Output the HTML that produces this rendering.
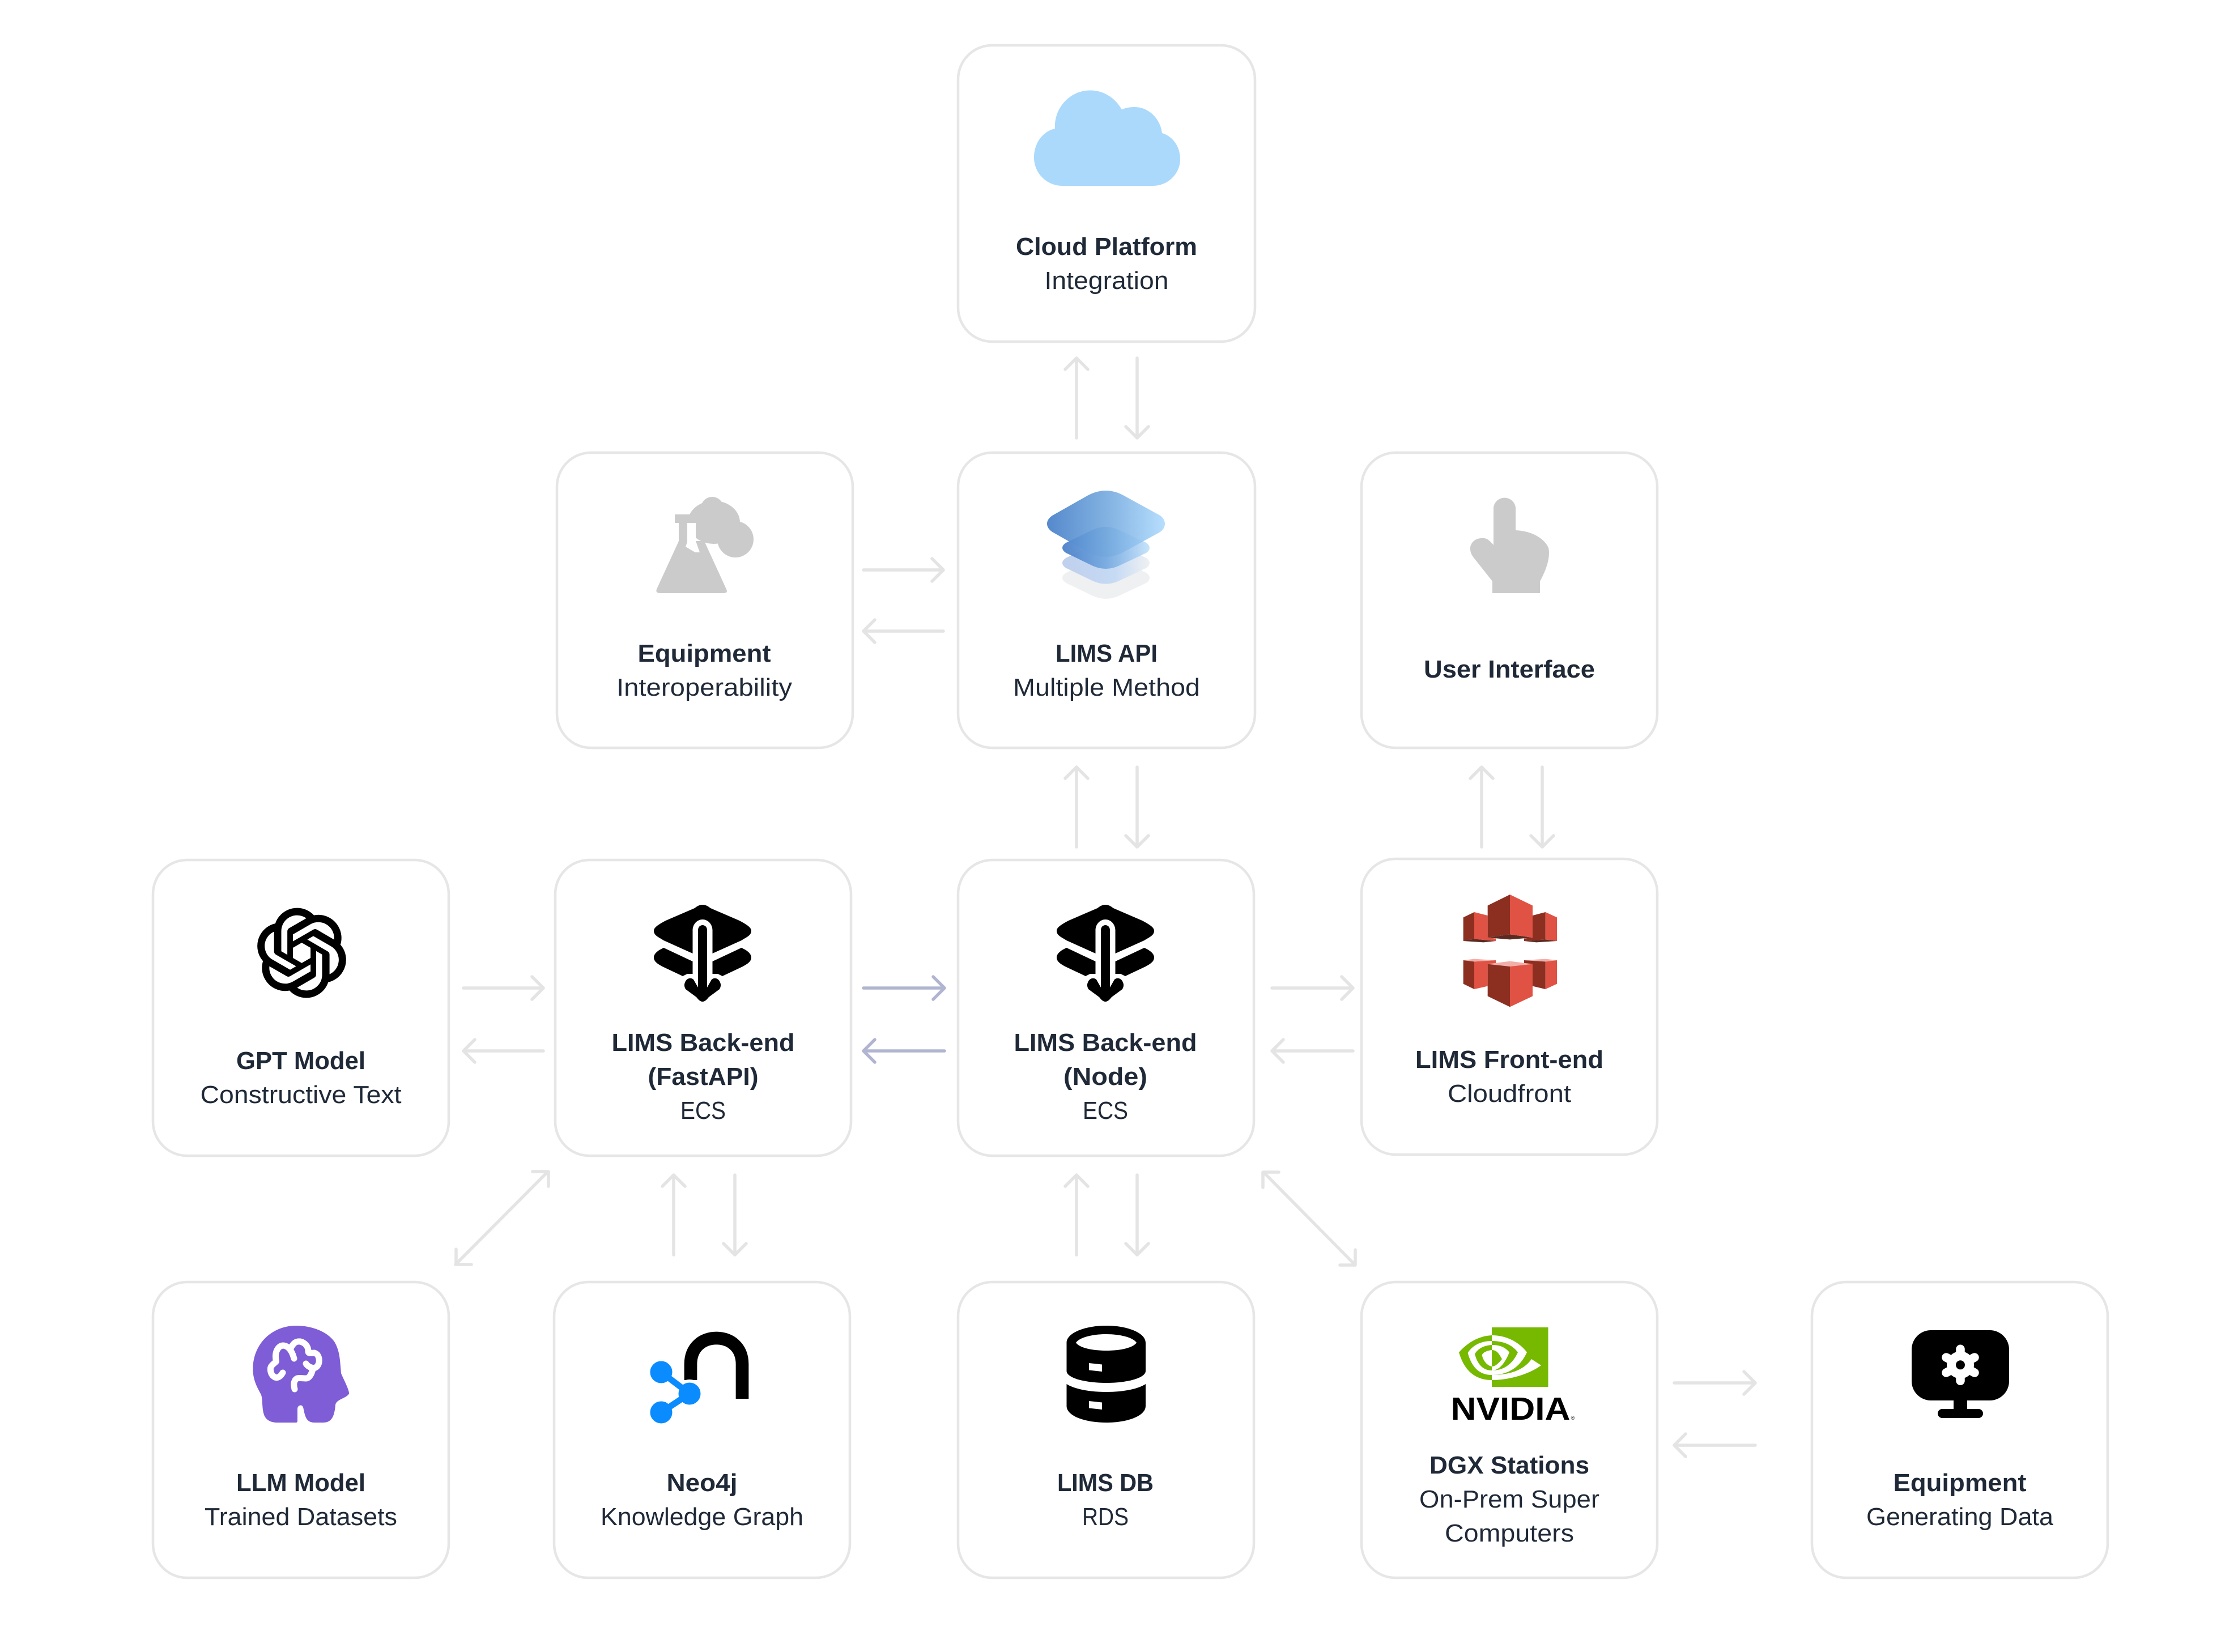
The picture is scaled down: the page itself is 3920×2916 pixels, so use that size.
<!DOCTYPE html>
<html>
<head>
<meta charset="utf-8">
<style>
html,body{margin:0;padding:0;background:#fff;width:3920px;height:2916px;overflow:hidden}
svg{display:block}
text{font-family:"Liberation Sans",sans-serif;font-size:44px;fill:#1f2937;text-anchor:middle}
.b{font-weight:700}
</style>
</head>
<body>
<svg width="3920" height="2916" viewBox="0 0 3920 2916" xmlns="http://www.w3.org/2000/svg">
<defs>
<linearGradient id="g1" x1="0" x2="1" y1="0" y2="0"><stop offset="0" stop-color="#437cc7"/><stop offset=".5" stop-color="#74a9de"/><stop offset="1" stop-color="#aedafd"/></linearGradient>
<linearGradient id="g2" x1="0" x2="1" y1="0" y2="0"><stop offset="0" stop-color="#4a80c9"/><stop offset=".5" stop-color="#78aae0"/><stop offset="1" stop-color="#c4e2fb"/></linearGradient>
<linearGradient id="g3" x1="0" x2="1" y1="0" y2="0"><stop offset="0" stop-color="#bccdec"/><stop offset=".6" stop-color="#c4d9f4"/><stop offset="1" stop-color="#eef0f2"/></linearGradient>
<path id="dia" d="M-104 0C-104 -7 -98 -13 -92 -16L-32 -50Q0 -67 31 -50L93 -16C99 -13 104 -7 104 0C104 7 99 13 93 16L31 50Q0 67 -32 50L-92 16C-98 13 -104 7 -104 0Z"/>
<g id="be">
<path d="M0 1597C-6 1597 -10 1600 -14 1603L-65 1625C-78 1632 -86 1637 -86 1643C-86 1651 -78 1654 -68.500 1660L-17.500 1683V1642C-17.500 1632 -10 1623 0 1623C10 1623 17.500 1632 17.500 1642V1683L68.500 1660C78 1654 86 1651 86 1643C86 1637 78 1632 65 1625L14 1603C10 1600 6 1597 0 1597Z"/>
<path d="M-68.500 1673L-17.500 1697V1719H-27L-35 1723L-71 1706C-80 1701 -86 1697 -86 1690C-86 1683 -78 1677 -68.500 1673Z"/>
<path d="M68.500 1673L17.500 1697V1719H27L35 1723L71 1706C80 1701 86 1697 86 1690C86 1683 78 1677 68.500 1673Z"/>
<path d="M-8 1642C-8 1636 -4 1633 0 1633C4 1633 8 1636 8 1642V1743L16 1729C20 1725 28 1726 31 1734C33 1739 32 1742 30 1746L11 1760C7 1765 4 1768 0 1768C-4 1768 -7 1765 -11 1760L-30 1746C-32 1742 -33 1739 -31 1734C-28 1726 -20 1725 -16 1729L-8 1743Z"/>
</g>
</defs>

<!-- boxes -->
<g fill="#fff" stroke="#e6e6e6" stroke-width="4.500">
<rect x="1691" y="80" width="524" height="523" rx="60"/>
<rect x="983" y="799" width="522" height="521" rx="60"/>
<rect x="1691" y="799" width="524" height="521" rx="60"/>
<rect x="2403" y="799" width="522" height="521" rx="60"/>
<rect x="270" y="1518" width="522" height="522" rx="60"/>
<rect x="980" y="1518" width="522" height="522" rx="60"/>
<rect x="1691" y="1518" width="522" height="522" rx="60"/>
<rect x="2403" y="1516" width="522" height="522" rx="60"/>
<rect x="270" y="2263" width="522" height="522" rx="60"/>
<rect x="978" y="2263" width="522" height="522" rx="60"/>
<rect x="1691" y="2263" width="522" height="522" rx="60"/>
<rect x="2403" y="2263" width="522" height="522" rx="60"/>
<rect x="3198" y="2263" width="522" height="522" rx="60"/>
</g>

<!-- arrows -->
<g fill="none" stroke="#e4e4e4" stroke-width="5.500" stroke-linecap="round" stroke-linejoin="round">
<path d="M1900 773V632M1880 652L1900 632L1920 652"/>
<path d="M2007 632V773M1987 753L2007 773L2027 753"/>
<path d="M1900 1495V1354M1880 1374L1900 1354L1920 1374"/>
<path d="M2007 1354V1495M1987 1475L2007 1495L2027 1475"/>
<path d="M2615 1495V1354M2595 1374L2615 1354L2635 1374"/>
<path d="M2722 1354V1495M2702 1475L2722 1495L2742 1475"/>
<path d="M1524 1006H1665M1645 986L1665 1006L1645 1026"/>
<path d="M1665 1114H1524M1544 1094L1524 1114L1544 1134"/>
<path d="M818 1744H959M939 1724L959 1744L939 1764"/>
<path d="M959 1855H818M838 1835L818 1855L838 1875"/>
<path d="M2245 1744H2388M2368 1724L2388 1744L2368 1764"/>
<path d="M2388 1855H2245M2265 1835L2245 1855L2265 1875"/>
<path d="M1189 2215V2074M1169 2094L1189 2074L1209 2094"/>
<path d="M1297 2074V2215M1277 2195L1297 2215L1317 2195"/>
<path d="M1900 2215V2074M1880 2094L1900 2074L1920 2094"/>
<path d="M2007 2074V2215M1987 2195L2007 2215L2027 2195"/>
<path d="M2955 2441H3098M3078 2421L3098 2441L3078 2461"/>
<path d="M3098 2551H2955M2975 2531L2955 2551L2975 2571"/>
<path d="M804 2232L967 2068M940 2068H968V2094M805 2205V2232H832"/>
<path d="M2230 2069L2391 2232M2257 2069H2229V2096M2365 2233H2392V2206"/>
</g>
<g fill="none" stroke="#b1b5d1" stroke-width="5.500" stroke-linecap="round" stroke-linejoin="round">
<path d="M1524 1744H1667M1647 1724L1667 1744L1647 1764"/>
<path d="M1667 1855H1524M1544 1835L1524 1855L1544 1875"/>
</g>

<!-- cloud -->
<path fill="#aad9fb" d="M1875 328H2035C2062 328 2083 306 2083 281C2083 258 2069 240 2051 235C2048 209 2027 189 2003 189C1994 189 1987 190 1980 193.500C1968 172 1947 159.500 1924 159.500C1889 159.500 1860 190 1862 227C1840 232 1825 253 1825 278C1825 306 1848 328 1875 328Z"/>

<!-- flask -->
<g fill="#cbcbcb">
<circle cx="1257" cy="897" r="20"/>
<ellipse cx="1260" cy="922" rx="46" ry="38"/>
<circle cx="1298" cy="952" r="32"/>
<path d="M1191 908H1240V923H1228V955L1243 955L1282 1040C1285 1047 1280 1047 1275 1047H1166C1160 1047 1157 1045 1159 1040L1198 955V923H1191Z"/>
<path fill="#fff" d="M1213 923H1228V955L1235 975H1227L1210 965L1213 957Z"/>
</g>

<!-- API layers -->
<use href="#dia" transform="translate(1952 1020) scale(.74 .632)" fill="#eff0f2"/>
<use href="#dia" transform="translate(1952 993.700) scale(.74 .632)" fill="url(#g3)" fill-opacity=".95"/>
<use href="#dia" transform="translate(1952 967) scale(.74 .632)" fill="url(#g2)" fill-opacity=".95"/>
<use href="#dia" transform="translate(1952 924.500)" fill="url(#g1)" fill-opacity=".9"/>

<!-- hand -->
<path fill="#cbcbcb" d="M2636 962V895.500A19.700 19.700 0 0 1 2675 895.500V936C2705 937 2727 952 2733 967C2737 985 2728 1008 2718 1026V1047H2634V1026L2600 983C2588 966 2599 950 2615 950C2622 949 2628 952 2636 962Z"/>

<!-- OpenAI -->
<path fill="#000" stroke="#000" stroke-width=".42" transform="translate(454.500 1604) scale(6.500)" d="M22.2819 9.8211a5.9847 5.9847 0 0 0-.5157-4.9108 6.0462 6.0462 0 0 0-6.5098-2.9A6.0651 6.0651 0 0 0 4.9807 4.1818a5.9847 5.9847 0 0 0-3.9977 2.9 6.0462 6.0462 0 0 0 .7427 7.0966 5.98 5.98 0 0 0 .511 4.9107 6.051 6.051 0 0 0 6.5146 2.9001A5.9847 5.9847 0 0 0 13.2599 24a6.0557 6.0557 0 0 0 5.7718-4.2058 5.9894 5.9894 0 0 0 3.9977-2.9001 6.0557 6.0557 0 0 0-.7475-7.0729zm-9.022 12.6081a4.4755 4.4755 0 0 1-2.8764-1.0408l.1419-.0804 4.7783-2.7582a.7948.7948 0 0 0 .3927-.6813v-6.7369l2.02 1.1686a.071.071 0 0 1 .038.052v5.5826a4.504 4.504 0 0 1-4.4945 4.4944zm-9.6607-4.1254a4.4708 4.4708 0 0 1-.5346-3.0137l.142.0852 4.783 2.7582a.7712.7712 0 0 0 .7806 0l5.8428-3.3685v2.3324a.0804.0804 0 0 1-.0332.0615L9.74 19.9502a4.4992 4.4992 0 0 1-6.1408-1.6464zM2.3408 7.8956a4.485 4.485 0 0 1 2.3655-1.9728V11.6a.7664.7664 0 0 0 .3879.6765l5.8144 3.3543-2.0201 1.1685a.0757.0757 0 0 1-.071 0l-4.8303-2.7865A4.504 4.504 0 0 1 2.3408 7.872zm16.5963 3.8558L13.1038 8.364 15.1192 7.2a.0757.0757 0 0 1 .071 0l4.8303 2.7913a4.4944 4.4944 0 0 1-.6765 8.1042v-5.6772a.79.79 0 0 0-.407-.667zm2.0107-3.0231l-.142-.0852-4.7735-2.7818a.7759.7759 0 0 0-.7854 0L9.409 9.2297V6.8974a.0662.0662 0 0 1 .0284-.0615l4.8303-2.7866a4.4992 4.4992 0 0 1 6.6802 4.66zM8.3065 12.863l-2.02-1.1638a.0804.0804 0 0 1-.038-.0567V6.0742a4.4992 4.4992 0 0 1 7.3757-3.4537l-.142.0805L8.704 5.459a.7948.7948 0 0 0-.3927.6813zm1.0976-2.3654l2.602-1.4998 2.6069 1.4998v2.9994l-2.5974 1.4997-2.6067-1.4997Z"/>

<!-- backend icons -->
<use href="#be" transform="translate(1240 0)" fill="#000"/>
<use href="#be" transform="translate(1951 0)" fill="#000"/>

<!-- AWS cubes -->
<g transform="translate(2540 1550) scale(.33333)">
<polygon fill="#5a2a22" points="128,333 186,322 300,333 235,340"/>
<polygon fill="#5a2a22" points="450,333 563,325 624,333 515,340"/>
<polygon fill="#8c2f20" points="128,208 186,180 186,322 128,333"/>
<polygon fill="#e05243" points="186,180 257,198 257,315 300,320 300,333 186,322"/>
<polygon fill="#8c2f20" points="495,198 563,180 563,325 450,333 450,320 495,315"/>
<polygon fill="#e05243" points="563,180 624,208 624,333 563,325"/>
<polygon fill="#5a2a22" points="257,315 375,298 495,315 375,325"/>
<polygon fill="#8c2f20" points="257,145 375,87 375,298 257,315"/>
<polygon fill="#e05243" points="375,87 495,145 495,315 375,298"/>
<polygon fill="#f2aea8" points="128,435 186,428 300,435 186,442"/>
<polygon fill="#f2aea8" points="450,435 563,428 624,435 563,442"/>
<polygon fill="#8c2f20" points="128,435 186,442 186,588 128,560"/>
<polygon fill="#e05243" points="186,442 300,435 300,455 257,455 257,572 186,588"/>
<polygon fill="#8c2f20" points="450,435 563,442 563,588 495,572 495,455 450,455"/>
<polygon fill="#e05243" points="563,442 624,435 624,560 563,588"/>
<polygon fill="#f2aea8" points="257,455 375,440 495,455 375,468"/>
<polygon fill="#8c2f20" points="257,455 375,468 375,682 257,625"/>
<polygon fill="#e05243" points="375,468 495,455 495,625 375,682"/>
</g>

<!-- LLM head -->
<path fill="#7e5dd6" d="M522.700 2340C480 2340 446.400 2372 446.400 2416.700C446.400 2438 456 2452 461 2462C464 2472 462 2485 465.800 2496.700C469 2506 477 2511 490 2511H522C524 2511 525 2510 525 2508V2487C525 2480 533 2478 535 2484C538 2495 538 2511 555 2511H570C583 2511 590 2504 592 2480C593 2470 612 2468 616 2460C617 2454 605 2432 602 2424C600 2400 600 2385 590 2368C577 2350 550 2340 522.700 2340Z"/>
<g fill="none" stroke="#fff" stroke-width="11" stroke-linecap="round" stroke-linejoin="round">
<path d="M499 2423C495 2430 490 2433 485 2431C478 2427 477 2420 477.500 2415C478 2410 484 2407 487.500 2403C484 2388 490 2376 499 2375C508 2375 515 2383 519 2398"/>
<path d="M513 2380C518 2370 523 2367 530 2368C538 2370 544 2376 544 2385C544 2390 549 2388 555 2388C562 2390 564 2398 563 2405C561 2413 556 2416 550 2414C545 2413 541 2409 540 2407"/>
<path d="M552 2417C550 2425 546 2433 540 2433C530 2433 523 2430 520 2438C518 2442 519 2448 520 2452"/>
</g>

<!-- Neo4j -->
<path fill="none" stroke="#000" stroke-width="22.700" d="M1219 2436V2408C1219 2378 1240 2362 1264.500 2362C1289 2362 1310 2378 1310 2408V2469"/>
<circle cx="1217" cy="2460" r="25" fill="#fff"/>
<g stroke="#0a8cff" stroke-width="11" fill="#0a8cff">
<path d="M1167 2422L1217 2460L1167 2493" fill="none"/>
<circle cx="1167" cy="2422" r="14"/>
<circle cx="1167" cy="2493" r="14"/>
<circle cx="1217" cy="2460" r="14"/>
</g>

<!-- DB -->
<path fill="#000" fill-rule="evenodd" d="M1882.500 2370C1882.500 2353 1914 2340 1952.500 2340C1991 2340 2022 2353 2022 2370V2420C2022 2432 1991 2441 1952.500 2441C1914 2441 1882.500 2432 1882.500 2420ZM1899 2370C1905 2379 1927 2384 1952.500 2384C1978 2384 2000 2379 2006 2370C2000 2361 1978 2355 1952.500 2355C1927 2355 1905 2361 1899 2370ZM1922 2406V2418.500L1945 2421V2408.500Z"/>
<path fill="#000" fill-rule="evenodd" d="M1882.500 2443C1895 2451 1920 2457 1952.500 2457C1985 2457 2010 2451 2022 2443V2481.700C2022 2499 1991 2511 1952.500 2511C1914 2511 1882.500 2499 1882.500 2481.700ZM1922 2473V2485.500L1945 2488V2475.500Z"/>

<!-- NVIDIA -->
<rect x="2633" y="2343" width="99.500" height="105" fill="#76b900"/>
<path fill="#76b900" d="M2633 2357C2610 2358 2590 2370 2575 2387C2583 2415 2600 2436 2633 2436Z"/>
<path fill="#fff" d="M2633 2367C2612 2367 2598 2376 2590.600 2388C2597 2412 2610 2427 2633 2427Z"/>
<path fill="#76b900" d="M2633 2374C2618 2375 2608 2381 2603 2390C2607 2406 2616 2419 2633 2419Z"/>
<path fill="#fff" d="M2633 2383C2624 2384 2618 2387 2615.600 2391.700C2618 2402 2624 2410 2633 2412Z"/>
<path fill="#fff" d="M2633 2357C2660 2357 2682 2370 2695 2387C2682 2415 2660 2427 2633 2427Z"/>
<path fill="#76b900" d="M2633 2367C2655 2367 2670 2375 2679 2387C2670 2407 2655 2419 2633 2419Z"/>
<path fill="#fff" d="M2633 2374C2650 2374 2658 2380 2664 2387C2658 2402 2648 2419 2633 2419Z"/>
<path fill="#76b900" d="M2633 2383C2643 2383 2647 2392 2651 2399C2646 2405 2640 2412 2633 2412Z"/>
<path fill="#fff" d="M2703 2399L2720 2410C2700 2425 2665 2436 2633 2436V2427C2665 2427 2690 2418 2703 2399Z"/>
<text x="2666" y="2506" style="font-size:57px;font-weight:700;fill:#000" textLength="211" lengthAdjust="spacingAndGlyphs">NVIDIA</text>
<text x="2776" y="2506" style="font-size:9px;fill:#000">®</text>

<!-- Monitor -->
<rect x="3374" y="2348" width="172" height="124" rx="34" fill="#000"/>
<rect x="3448" y="2465" width="24" height="28" fill="#000"/>
<rect x="3420" y="2487" width="80" height="16" rx="8" fill="#000"/>
<g stroke="#fff" stroke-width="15.500" stroke-linecap="round">
<path d="M3460 2409.300V2381.300M3460 2409.300V2437.300M3460 2409.300L3435 2396M3460 2409.300L3485 2396M3460 2409.300L3435 2423M3460 2409.300L3485 2423"/>
</g>
<circle cx="3460" cy="2409.300" r="24" fill="#fff"/>
<circle cx="3460" cy="2409.300" r="8" fill="#000"/>

<!-- labels -->
<text class="b" x="1953" y="450" textLength="320" lengthAdjust="spacingAndGlyphs">Cloud Platform</text>
<text x="1953" y="510" textLength="219" lengthAdjust="spacingAndGlyphs">Integration</text>

<text class="b" x="1243" y="1168" textLength="235" lengthAdjust="spacingAndGlyphs">Equipment</text>
<text x="1243" y="1228" textLength="310" lengthAdjust="spacingAndGlyphs">Interoperability</text>

<text class="b" x="1953" y="1168" textLength="180" lengthAdjust="spacingAndGlyphs">LIMS API</text>
<text x="1953" y="1228" textLength="330" lengthAdjust="spacingAndGlyphs">Multiple Method</text>

<text class="b" x="2664" y="1196" textLength="302" lengthAdjust="spacingAndGlyphs">User Interface</text>

<text class="b" x="531" y="1887" textLength="228" lengthAdjust="spacingAndGlyphs">GPT Model</text>
<text x="531" y="1947" textLength="355" lengthAdjust="spacingAndGlyphs">Constructive Text</text>

<text class="b" x="1241" y="1855" textLength="323" lengthAdjust="spacingAndGlyphs">LIMS Back-end</text>
<text class="b" x="1241" y="1915" textLength="195" lengthAdjust="spacingAndGlyphs">(FastAPI)</text>
<text x="1241" y="1975" textLength="80" lengthAdjust="spacingAndGlyphs">ECS</text>

<text class="b" x="1951" y="1855" textLength="323" lengthAdjust="spacingAndGlyphs">LIMS Back-end</text>
<text class="b" x="1951" y="1915" textLength="148" lengthAdjust="spacingAndGlyphs">(Node)</text>
<text x="1951" y="1975" textLength="80" lengthAdjust="spacingAndGlyphs">ECS</text>

<text class="b" x="2664" y="1885" textLength="332" lengthAdjust="spacingAndGlyphs">LIMS Front-end</text>
<text x="2664" y="1945" textLength="218" lengthAdjust="spacingAndGlyphs">Cloudfront</text>

<text class="b" x="531" y="2632" textLength="228" lengthAdjust="spacingAndGlyphs">LLM Model</text>
<text x="531" y="2692" textLength="340" lengthAdjust="spacingAndGlyphs">Trained Datasets</text>

<text class="b" x="1239" y="2632" textLength="125" lengthAdjust="spacingAndGlyphs">Neo4j</text>
<text x="1239" y="2692" textLength="358" lengthAdjust="spacingAndGlyphs">Knowledge Graph</text>

<text class="b" x="1951" y="2632" textLength="170" lengthAdjust="spacingAndGlyphs">LIMS DB</text>
<text x="1951" y="2692" textLength="82" lengthAdjust="spacingAndGlyphs">RDS</text>

<text class="b" x="2664" y="2601" textLength="282" lengthAdjust="spacingAndGlyphs">DGX Stations</text>
<text x="2664" y="2661" textLength="318" lengthAdjust="spacingAndGlyphs">On-Prem Super</text>
<text x="2664" y="2721" textLength="228" lengthAdjust="spacingAndGlyphs">Computers</text>

<text class="b" x="3459" y="2632" textLength="235" lengthAdjust="spacingAndGlyphs">Equipment</text>
<text x="3459" y="2692" textLength="330" lengthAdjust="spacingAndGlyphs">Generating Data</text>
</svg>
</body>
</html>
